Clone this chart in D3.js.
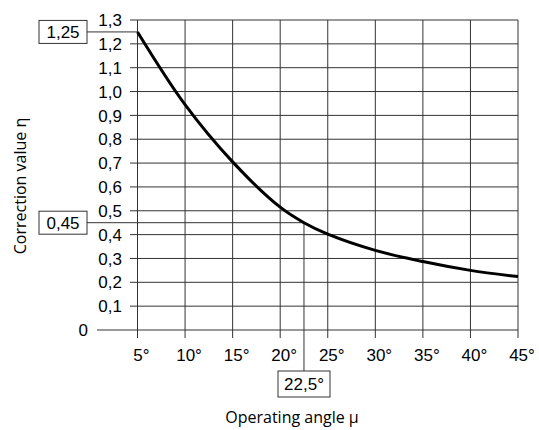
<!DOCTYPE html>
<html>
<head>
<meta charset="utf-8">
<script src="https://cdn.jsdelivr.net/npm/d3@7"></script>
<style>
  body { margin: 0; background: #fff; }
  svg { display: block; }
</style>
</head>
<body>
<svg id="chart"></svg>
<script>
// curve
let angles = [5, 10, 15, 20, 22.5, 25, 30, 35, 40, 45];
let eta = [1.25, 0.945, 0.705, 0.515, 0.45, 0.402, 0.334, 0.287, 0.25, 0.224];
let xTicks = [5, 10, 15, 20, 25, 30, 35, 40, 45];
let yTicks = [0.1, 0.2, 0.3, 0.4, 0.5, 0.6, 0.7, 0.8, 0.9, 1.0, 1.1, 1.2, 1.3];
let markAngle = 22.5, markEta = 0.45, startEta = 1.25;

let width = 539, height = 430;
let svg = d3.select("#chart").attr("width", width).attr("height", height);

//ranges
let x = d3.scaleLinear().domain([5, 45]).range([137.5, 518]);
let y = d3.scaleLinear().domain([0, 1.3]).range([330, 20]);

let fmt = v => d3.format(".1f")(v).replace(".", ",");
let gridCol = "#333";
let tickFont = "'Liberation Sans', Arial, sans-serif";

//horizontal grid lines with left ticks
svg.append("g").selectAll("line").data(yTicks).join("line")
    .attr("x1", 130).attr("x2", x(45))
    .attr("y1", d => y(d)).attr("y2", d => y(d))
    .attr("stroke", gridCol).attr("stroke-width", 1);

//zero line
svg.append("line")
    .attr("x1", 97).attr("x2", x(45))
    .attr("y1", y(0)).attr("y2", y(0))
    .attr("stroke", gridCol).attr("stroke-width", 1);

//vertical grid lines
svg.append("g").selectAll("line").data(xTicks).join("line")
    .attr("x1", d => x(d)).attr("x2", d => x(d))
    .attr("y1", y(1.3)).attr("y2", y(0) + 8)
    .attr("stroke", gridCol).attr("stroke-width", 1);

//y tick labels
svg.append("g").selectAll("text").data(yTicks).join("text")
    .attr("x", 122).attr("y", d => y(d))
    .attr("dy", "0.36em")
    .attr("text-anchor", "end")
    .style("font-family", tickFont).style("font-size", "17px")
    .text(fmt);

svg.append("text")
    .attr("x", 88).attr("y", y(0)).attr("dy", "0.36em")
    .attr("text-anchor", "end")
    .style("font-family", tickFont).style("font-size", "17px")
    .text("0");

//x tick labels
svg.append("g").selectAll("text").data(xTicks).join("text")
    .attr("x", d => x(d) + 4).attr("y", 361)
    .attr("text-anchor", "middle")
    .style("font-family", tickFont).style("font-size", "17px")
    .text(d => d + "°");

//marker lines
svg.append("line")
    .attr("x1", 87).attr("x2", x(5))
    .attr("y1", y(startEta)).attr("y2", y(startEta))
    .attr("stroke", gridCol).attr("stroke-width", 1);
svg.append("line")
    .attr("x1", 87).attr("x2", x(markAngle))
    .attr("y1", y(markEta)).attr("y2", y(markEta))
    .attr("stroke", gridCol).attr("stroke-width", 1);
svg.append("line")
    .attr("x1", x(markAngle)).attr("x2", x(markAngle))
    .attr("y1", y(markEta)).attr("y2", 371)
    .attr("stroke", gridCol).attr("stroke-width", 1);

//boxed labels
function box(cx, cy, w, h, label) {
    svg.append("rect")
        .attr("x", cx - w / 2).attr("y", cy - h / 2)
        .attr("width", w).attr("height", h)
        .attr("fill", "#fff").attr("stroke", gridCol).attr("stroke-width", 1);
    svg.append("text")
        .attr("x", cx).attr("y", cy).attr("dy", "0.36em")
        .attr("text-anchor", "middle")
        .style("font-family", tickFont).style("font-size", "17px")
        .text(label);
}
box(63, y(startEta), 48, 23, d3.format(".2f")(startEta).replace(".", ","));
box(63, y(markEta), 48, 23, d3.format(".2f")(markEta).replace(".", ","));
box(304, 384, 52, 26, String(markAngle).replace(".", ",") + "°");

//curve
let pts = angles.map((a, i) => [a, eta[i]]);
let valueline = d3.line()
    .x(d => x(d[0]))
    .y(d => y(d[1]))
    .curve(d3.curveCatmullRom.alpha(0.5));
svg.append("path")
    .datum(pts)
    .attr("d", valueline)
    .attr("fill", "none")
    .attr("stroke", "#000")
    .attr("stroke-width", 3);

//axis titles
svg.append("text")
    .attr("transform", "translate(26,186) rotate(-90)")
    .attr("text-anchor", "middle")
    .style("font-family", "'Open Sans', sans-serif")
    .style("font-size", "16px")
    .text("Correction value η");

svg.append("text")
    .attr("x", 292).attr("y", 423)
    .attr("text-anchor", "middle")
    .style("font-family", "'Open Sans', sans-serif")
    .style("font-size", "16px")
    .text("Operating angle μ");
</script>
</body>
</html>
